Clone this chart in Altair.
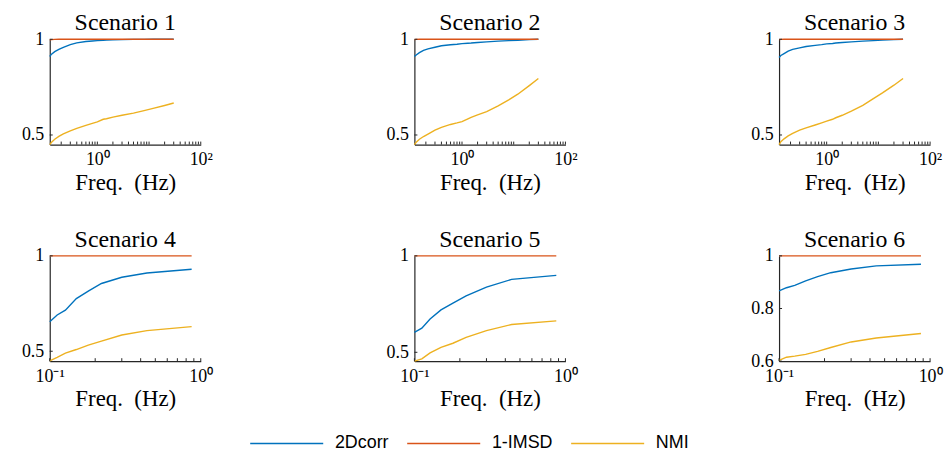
import altair as alt
import pandas as pd

SERIES = ["2Dcorr", "1-IMSD", "NMI"]
COLORS = ["#0072BD", "#D95319", "#EDB120"]
TITLES = ["Scenario 1", "Scenario 2", "Scenario 3", "Scenario 4", "Scenario 5", "Scenario 6"]

# ---- top row (wide log frequency range) ----
freq_top = [0.12, 0.13, 0.15, 0.18, 0.22, 0.3, 0.4, 0.6, 0.8, 1.0, 1.3, 1.5, 2, 3, 5, 8, 12, 20, 30]

s1_corr = [0.91, 0.922, 0.935, 0.947, 0.958, 0.972, 0.981, 0.988, 0.991, 0.993, 0.995, 0.996, 0.997, 0.998, 0.999, 0.999, 1.0, 1.0, 1.0]
s1_imsd = [0.997, 0.998, 0.999, 1.0, 1.0, 1.0, 1.0, 1.0, 1.0, 1.0, 1.0, 1.0, 1.0, 1.0, 1.0, 1.0, 1.0, 1.0, 1.0]
s1_nmi = [0.45, 0.462, 0.478, 0.493, 0.506, 0.522, 0.535, 0.55, 0.561, 0.568, 0.582, 0.585, 0.593, 0.603, 0.614, 0.627, 0.639, 0.654, 0.667]

s2_corr = [0.91, 0.918, 0.93, 0.942, 0.95, 0.958, 0.966, 0.971, 0.974, 0.977, 0.979, 0.98, 0.983, 0.986, 0.99, 0.993, 0.995, 0.998, 1.0]
s2_imsd = [0.998, 0.999, 1.0, 1.0, 1.0, 1.0, 1.0, 1.0, 1.0, 1.0, 1.0, 1.0, 1.0, 1.0, 1.0, 1.0, 1.0, 1.0, 1.0]
s2_nmi = [0.45, 0.462, 0.478, 0.492, 0.505, 0.525, 0.54, 0.555, 0.563, 0.57, 0.584, 0.592, 0.605, 0.622, 0.652, 0.683, 0.713, 0.758, 0.795]

s3_corr = [0.905, 0.915, 0.925, 0.938, 0.947, 0.955, 0.962, 0.968, 0.972, 0.976, 0.978, 0.98, 0.983, 0.986, 0.99, 0.993, 0.996, 0.998, 1.0]
s3_imsd = [0.998, 0.999, 1.0, 1.0, 1.0, 1.0, 1.0, 1.0, 1.0, 1.0, 1.0, 1.0, 1.0, 1.0, 1.0, 1.0, 1.0, 1.0, 1.0]
s3_nmi = [0.45, 0.465, 0.48, 0.495, 0.508, 0.525, 0.537, 0.552, 0.563, 0.572, 0.582, 0.59, 0.603, 0.625, 0.655, 0.69, 0.72, 0.76, 0.795]

# ---- bottom row (0.1 - 1 Hz) ----
freq_bottom = [0.1, 0.112, 0.127, 0.15, 0.18, 0.22, 0.3, 0.44, 0.87]

s4_corr = [0.655, 0.69, 0.715, 0.776, 0.815, 0.855, 0.888, 0.91, 0.93]
s4_imsd = [1.0, 1.0, 1.0, 1.0, 1.0, 1.0, 1.0, 1.0, 1.0]
s4_nmi = [0.45, 0.468, 0.49, 0.509, 0.532, 0.553, 0.585, 0.608, 0.629]

s5_corr = [0.603, 0.625, 0.673, 0.72, 0.755, 0.793, 0.838, 0.878, 0.899]
s5_imsd = [1.0, 1.0, 1.0, 1.0, 1.0, 1.0, 1.0, 1.0, 1.0]
s5_nmi = [0.454, 0.466, 0.497, 0.526, 0.547, 0.577, 0.612, 0.644, 0.663]

s6_corr = [0.867, 0.879, 0.888, 0.905, 0.921, 0.936, 0.950, 0.962, 0.968]
s6_imsd = [1.0, 1.0, 1.0, 1.0, 1.0, 1.0, 1.0, 1.0, 1.0]
s6_nmi = [0.603, 0.615, 0.619, 0.626, 0.637, 0.652, 0.673, 0.688, 0.705]

# axis ranges and ticks
x_dom_top = [0.12, 100]
x_dom_bottom = [0.1, 1]
x_labels_top = [1, 100]
x_labels_bottom = [0.1, 1]
x_ticks_top = [0.2, 0.3, 0.4, 0.5, 0.6, 0.7, 0.8, 0.9, 1, 2, 3, 4, 5, 6, 7, 8, 9, 10,
               20, 30, 40, 50, 60, 70, 80, 90, 100]
x_ticks_bottom = [0.1, 0.2, 0.3, 0.4, 0.5, 0.6, 0.7, 0.8, 0.9, 1]
y_doms = [[0.45, 1], [0.45, 1], [0.45, 1], [0.448, 1], [0.454, 1], [0.6, 1]]
y_ticks = [[0.5, 1], [0.5, 1], [0.5, 1], [0.5, 1], [0.5, 1], [0.6, 0.8, 1]]

W, H = 152, 106
AX = "#262626"
SERIF = "Liberation Serif"


def panel(i, freqs, corr, imsd, nmi, xdom, xlabels, xticks, label_expr, yext):
    df = pd.DataFrame({
        "f": freqs * 3,
        "v": corr + imsd + nmi,
        "s": [SERIES[0]] * len(freqs) + [SERIES[1]] * len(freqs) + [SERIES[2]] * len(freqs),
    })
    xs = alt.Scale(type="log", domain=xdom, nice=False)
    ys = alt.Scale(domain=y_doms[i], nice=False, zero=False)
    xa = alt.Axis(values=xlabels, labelExpr=label_expr, ticks=False, grid=False,
                  title="Freq.\u2002(Hz)", labelFlush=False, labelOverlap=False,
                  labelPadding=6, titlePadding=3)
    ya = alt.Axis(values=y_ticks[i], format=".1~f", ticks=False, grid=False, title=None,
                  labelPadding=6, minExtent=yext, maxExtent=yext, labelFlush=False)
    lines = alt.Chart(df).mark_line(strokeWidth=1.4).encode(
        x=alt.X("f:Q", scale=xs, axis=xa),
        y=alt.Y("v:Q", scale=ys, axis=ya),
        color=alt.Color("s:N", scale=alt.Scale(domain=SERIES, range=COLORS),
                        sort=SERIES, legend=alt.Legend(title=None)),
    )
    xt = alt.Chart(pd.DataFrame({"f": xticks})).mark_rule(color=AX, strokeWidth=1).encode(
        x=alt.X("f:Q", scale=xs, axis=xa), y=alt.value(H), y2=alt.value(H - 3))
    yt = alt.Chart(pd.DataFrame({"v": y_ticks[i]})).mark_rule(color=AX, strokeWidth=1).encode(
        y=alt.Y("v:Q", scale=ys, axis=ya), x=alt.value(0), x2=alt.value(3))
    return alt.layer(lines, xt, yt).properties(
        width=W, height=H,
        title=alt.TitleParams(TITLES[i], font=SERIF, fontSize=24, fontWeight="normal",
                              color="#000000", offset=-5, anchor="middle", frame="group"))


top_expr = "datum.value == 1 ? '10\u2070' : '10\u00b2'"
bot_expr = "datum.value < 0.5 ? '10\u207b\u00b9' : '10\u2070'"

p1 = panel(0, freq_top, s1_corr, s1_imsd, s1_nmi, x_dom_top, x_labels_top, x_ticks_top, top_expr, 34)
p2 = panel(1, freq_top, s2_corr, s2_imsd, s2_nmi, x_dom_top, x_labels_top, x_ticks_top, top_expr, 34)
p3 = panel(2, freq_top, s3_corr, s3_imsd, s3_nmi, x_dom_top, x_labels_top, x_ticks_top, top_expr, 34)
p4 = panel(3, freq_bottom, s4_corr, s4_imsd, s4_nmi, x_dom_bottom, x_labels_bottom, x_ticks_bottom, bot_expr, 40)
p5 = panel(4, freq_bottom, s5_corr, s5_imsd, s5_nmi, x_dom_bottom, x_labels_bottom, x_ticks_bottom, bot_expr, 40)
p6 = panel(5, freq_bottom, s6_corr, s6_imsd, s6_nmi, x_dom_bottom, x_labels_bottom, x_ticks_bottom, bot_expr, 40)

row1 = alt.hconcat(p1, p2, p3, spacing=215, bounds="flush")
row2 = alt.hconcat(p4, p5, p6, spacing=215, bounds="flush")

chart = alt.vconcat(row1, row2, spacing=34).properties(
    padding={"left": 2, "top": 2, "right": 2, "bottom": 2}
).configure_view(stroke=None).configure_axis(
    domainColor=AX, domainWidth=1.2,
    labelFont=SERIF, labelFontSize=18, labelColor="#000000",
    titleFont=SERIF, titleFontSize=23, titleFontWeight="normal", titleColor="#000000",
).configure_legend(
    orient="none", legendX=201, legendY=369, direction="horizontal",
    symbolType="stroke", symbolSize=5400, symbolStrokeWidth=1.5,
    labelFont="Liberation Sans", labelFontSize=18, labelColor="#000000",
    columnPadding=14, labelOffset=11, padding=0,
)

chart.save("out.html", embed_options={"renderer": "svg", "actions": False})
